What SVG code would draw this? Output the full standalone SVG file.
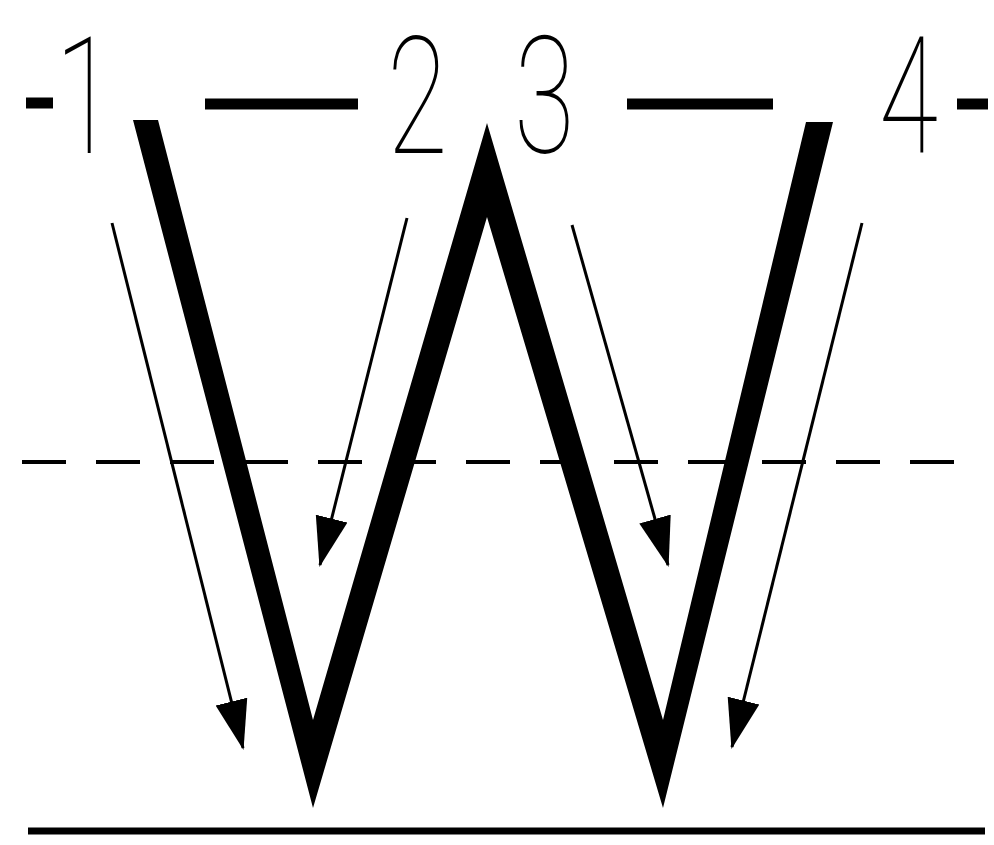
<svg xmlns="http://www.w3.org/2000/svg" width="994" height="845" viewBox="0 0 994 845">
<style>
.lbl{font-family:Roboto,"DejaVu Sans",sans-serif;font-weight:100;font-size:163px;fill:#000}
.bar{stroke:#000;stroke-width:11;stroke-linecap:butt}
.arr{stroke:#000;stroke-width:3;fill:none}
</style>
<defs>
<marker id="ah" markerUnits="userSpaceOnUse" markerWidth="50" markerHeight="34" viewBox="0 0 46 30" refX="44" refY="15" orient="auto">
<path d="M0,0 L46,15 L0,30 Z" fill="#000"/>
</marker>
</defs>
<rect width="994" height="845" fill="#fff"/>
<g id="labels">
<line class="bar" x1="26" y1="103" x2="53" y2="103"/>
<text class="lbl" transform="translate(55,153) scale(0.68,1)">1</text>
<line class="bar" x1="205" y1="104" x2="358" y2="104"/>
<text class="lbl" transform="translate(387,153) scale(0.68,1)">2</text>
<text class="lbl" transform="translate(514,152) scale(0.68,1)">3</text>
<line class="bar" x1="627" y1="104" x2="773" y2="104"/>
<text class="lbl" transform="translate(879,153) scale(0.66,1)">4</text>
<line class="bar" x1="957" y1="104" x2="988" y2="104"/>
</g>
<g id="w-spring">
<polygon points="133,120 313,808 487,217 663,808 833,122 806,122 663,720 487,123 313,720 158,120" fill="#000"/>
</g>
<g id="reference-lines">
<line x1="22" y1="462" x2="960" y2="462" stroke="#000" stroke-width="4" stroke-dasharray="44 30"/>
<line x1="28" y1="831" x2="985" y2="831" stroke="#000" stroke-width="7"/>
</g>
<g id="connectors">
<line class="arr" x1="112" y1="223" x2="243" y2="748" marker-end="url(#ah)"/>
<line class="arr" x1="407" y1="218" x2="320" y2="565" marker-end="url(#ah)"/>
<line class="arr" x1="572" y1="225" x2="668" y2="565" marker-end="url(#ah)"/>
<line class="arr" x1="862" y1="223" x2="732" y2="747" marker-end="url(#ah)"/>
</g>
</svg>
